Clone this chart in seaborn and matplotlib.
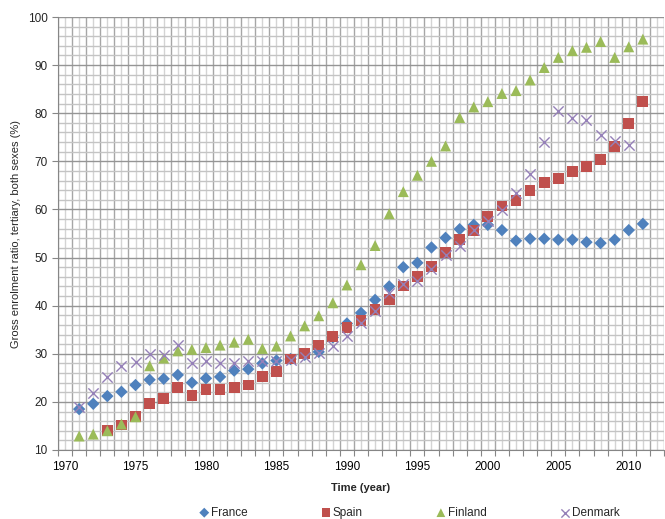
import numpy as np
import pandas as pd
import matplotlib
matplotlib.use('Agg')
import matplotlib.pyplot as plt
from matplotlib.ticker import MultipleLocator, FuncFormatter
import seaborn as sns

years = list(range(1971, 2012))

france = [18.5, 19.6, 21.2, 22.1, 23.5, 24.6, 24.8, 25.6, 24.0, 24.9,
          25.2, 26.5, 26.8, 28.0, 28.6, 28.9, 29.8, 30.4, 33.4, 36.3,
          38.5, 41.2, 44.0, 48.0, 48.9, 52.1, 54.1, 55.9, 56.8, 56.8,
          55.7, 53.5, 53.9, 53.9, 53.7, 53.7, 53.2, 53.0, 53.7, 55.7, 57.0]
spain = [None, None, 14.0, 15.2, 16.9, 19.6, 20.7, 23.0, 21.4, 22.6,
         22.6, 23.0, 23.5, 25.2, 26.3, 28.9, 30.0, 31.8, 33.6, 35.4,
         36.9, 39.2, 41.3, 44.1, 46.0, 48.1, 51.0, 53.7, 55.7, 58.5,
         60.7, 61.8, 63.9, 65.6, 66.5, 67.9, 68.9, 70.4, 73.1, 77.9, 82.4]
finland = [12.9, 13.3, 14.0, 15.4, 16.9, 27.5, 29.1, 30.6, 30.9, 31.3,
           31.8, 32.4, 33.0, 31.1, 31.6, 33.7, 35.8, 37.9, 40.6, 44.3,
           48.5, 52.5, 59.1, 63.7, 67.1, 70.0, 73.2, 79.1, 81.3, 82.4,
           84.1, 84.7, 86.9, 89.5, 91.6, 93.0, 93.7, 94.9, 91.6, 93.8, 95.4]
denmark = [18.9, 21.9, 25.2, 27.5, 28.2, 30.0, 29.8, 31.8, 28.0, 28.4,
           28.0, 28.0, 28.4, 28.6, 28.6, 28.7, 29.4, 30.2, 31.6, 33.7,
           36.5, 38.8, 42.7, 44.4, 45.2, 47.6, 50.5, 52.3, 55.7, 57.5,
           59.8, 63.5, 67.4, 74.1, 80.4, 79.0, 78.5, 75.5, 74.3, 73.4, None]

countries = ['France', 'Spain', 'Finland', 'Denmark']
colors = {'France': '#4f81bd', 'Spain': '#c0504d', 'Finland': '#9bbb59', 'Denmark': '#9580b8'}
markers = {'France': 'D', 'Spain': 's', 'Finland': '^', 'Denmark': 'x'}
sizes = {'France': 40, 'Spain': 60, 'Finland': 62, 'Denmark': 55}

df = pd.DataFrame({'year': years, 'France': france, 'Spain': spain,
                   'Finland': finland, 'Denmark': denmark})
df = df.melt(id_vars='year', var_name='country', value_name='ratio').dropna()

sns.set_style('white')
plt.rcParams['font.family'] = ['Liberation Sans', 'DejaVu Sans']

fig = plt.figure(figsize=(6.65, 5.19), dpi=100)
ax = fig.add_axes([58/665, 69/519, 606/665, 433/519])

for c in countries:
    sub = df[df.country == c]
    if markers[c] == 'x':
        sns.scatterplot(data=sub, x='year', y='ratio', marker='x', color=colors[c],
                        s=sizes[c], linewidth=1.0, ax=ax, label=c, zorder=3)
    else:
        sns.scatterplot(data=sub, x='year', y='ratio', marker=markers[c], color=colors[c],
                        s=sizes[c], edgecolor='none', ax=ax, label=c, zorder=3)

ax.set_xlim(1969.5, 2012.5)
ax.set_ylim(10, 100)

ax.xaxis.set_major_locator(MultipleLocator(1))
ax.xaxis.set_minor_locator(MultipleLocator(1, offset=0.5))
ax.xaxis.set_major_formatter(FuncFormatter(lambda v, p: '%d' % v if round(v) % 5 == 0 else ''))
ax.yaxis.set_major_locator(MultipleLocator(10))
ax.yaxis.set_minor_locator(MultipleLocator(2))

ax.grid(which='major', axis='x', color='#d4d4d4', lw=1.0)
ax.grid(which='minor', axis='x', color='#a6a6a6', lw=1.0)
ax.grid(which='major', axis='y', color='#959595', lw=1.0)
ax.grid(which='minor', axis='y', color='#c4c4c4', lw=1.0)
ax.set_axisbelow(True)

ax.tick_params(axis='x', which='major', length=0, labelsize=8.5, pad=8, colors='#000000')
ax.tick_params(axis='x', which='minor', length=4, width=0.8, color='#868686', direction='out', bottom=True)
ax.tick_params(axis='y', which='major', length=4, width=0.8, color='#868686', direction='out',
               left=True, labelsize=8.5)
ax.tick_params(axis='y', which='minor', length=0)

for s in ['top', 'right']:
    ax.spines[s].set_visible(False)
for s in ['left', 'bottom']:
    ax.spines[s].set_color('#868686')
    ax.spines[s].set_linewidth(0.8)

ax.set_xlabel('Time (year)', fontsize=8, fontweight='bold', labelpad=7)
ax.set_ylabel('Gross enrolment ratio, tertiary, both sexes (%)', fontsize=8, labelpad=5)

handles, labels = ax.get_legend_handles_labels()
ax.get_legend().remove()
fig.legend(handles, labels, loc='center', bbox_to_anchor=(0.614, 0.012), ncol=4,
           frameon=False, fontsize=8.5, handletextpad=0.0, columnspacing=6.0,
           markerscale=0.8, handlelength=1.2)

fig.savefig('out.png', dpi=100)
